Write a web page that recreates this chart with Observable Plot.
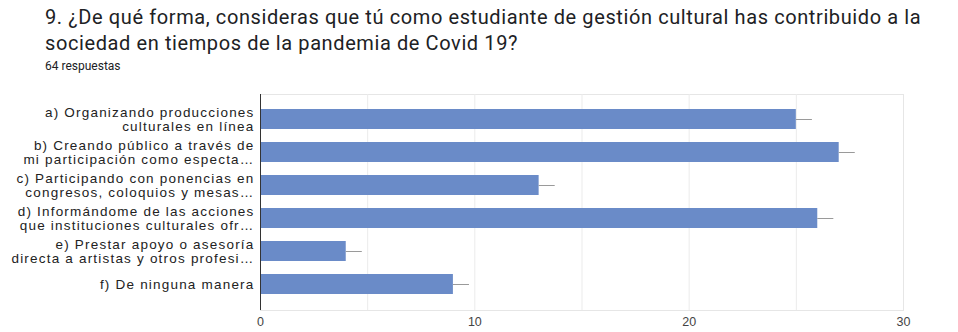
<!DOCTYPE html>
<html><head><meta charset="utf-8">
<script src="https://cdn.jsdelivr.net/npm/d3@7"></script>
<script src="https://cdn.jsdelivr.net/npm/@observablehq/plot@0.6"></script>
<style>
body{margin:0;background:#fff;width:958px;height:332px;overflow:hidden;position:relative;font-family:Roboto,"Noto Sans",sans-serif;}
#title{position:absolute;left:45px;top:4px;font-size:20px;line-height:26px;color:#202124;letter-spacing:0.6px;white-space:nowrap;}
#sub{position:absolute;left:45px;top:59px;font-size:12px;color:#202124;}
#chart{position:absolute;left:0;top:80px;}
.ylab{letter-spacing:1.2px;}
</style></head>
<body>
<div id="title">9. ¿De qué forma, consideras que tú como estudiante de gestión cultural has contribuido a la<br>sociedad en tiempos de la pandemia de Covid 19?</div>
<div id="sub">64 respuestas</div>
<div id="chart"></div>
<script>
const categories = [
  "a) Organizando producciones\nculturales en línea",
  "b) Creando público a través de\nmi participación como especta…",
  "c) Participando con ponencias en\ncongresos, coloquios y mesas…",
  "d) Informándome de las acciones\nque instituciones culturales ofr…",
  "e) Prestar apoyo o asesoría\ndirecta a artistas y otros profesi…",
  "f) De ninguna manera"
];
const values = [25, 27, 13, 26, 4, 9];
const xTicks = [0, 10, 20, 30];
const gridTicks = [5, 10, 15, 20, 25];

const data = categories.map((c, i) => ({category: c, value: values[i]}));

const chart = Plot.plot({
  width: 958,
  height: 252,
  marginLeft: 260,
  marginRight: 55,
  marginTop: 14,
  marginBottom: 22,
  style: {fontFamily: "'Liberation Sans', Arial, sans-serif", background: "#fff"},
  x: {domain: [0, 30], axis: null},
  y: {domain: categories, padding: 0.39, axis: null},
  marks: [
    Plot.frame({stroke: "#e6e6e6"}),
    Plot.ruleX(gridTicks, {stroke: "#ebebeb"}),
    Plot.barX(data, {x: "value", y: "category", fill: "#6a8bc8"}),
    Plot.ruleY(data, {y: "category", x1: "value", x2: d => d.value + 0.75, stroke: "#9a9a9a", strokeWidth: 1}),
    Plot.ruleX([0], {stroke: "#333"}),
    Plot.axisX(xTicks, {tickSize: 0, tickPadding: 7, fontSize: 12.5, fill: "#444", stroke: null, label: null}),
    Plot.text(data, {x: 0, y: "category", text: "category", textAnchor: "end", dx: -6, fontSize: 13.5, fill: "#222", lineHeight: 1.08, className: "ylab"})
  ]
});
document.getElementById("chart").appendChild(chart);
</script>
</body></html>
